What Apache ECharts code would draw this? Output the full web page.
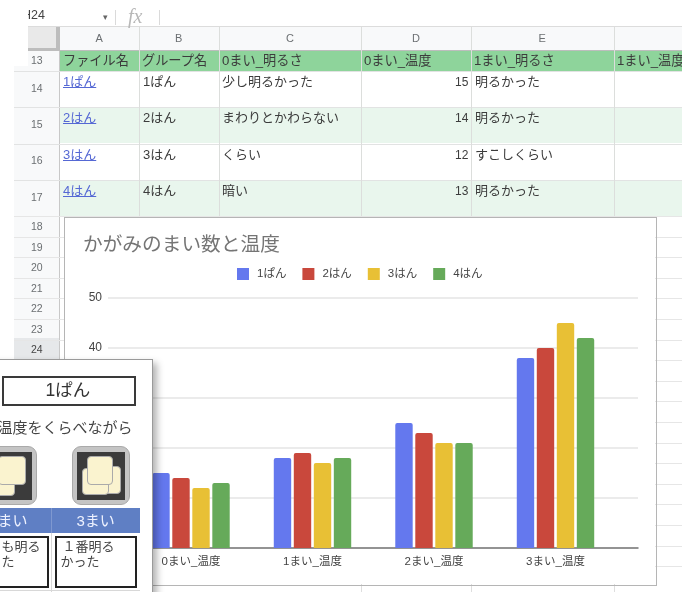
<!DOCTYPE html>
<html>
<head>
<meta charset="utf-8">
<script src="https://cdn.jsdelivr.net/npm/echarts@6/dist/echarts.min.js"></script>
<style>
  html, body { margin: 0; padding: 0; background: #fff; overflow: hidden; }
  #page { position: relative; width: 682px; height: 592px; overflow: hidden; filter: blur(0.45px);
    font-family: "Liberation Sans", "Noto Sans CJK JP", sans-serif; color: #333; }
  .abs { position: absolute; white-space: nowrap; }
  #chart { position: absolute; left: 65px; top: 218px; width: 590px; height: 366px; background: #fff; }
  #chartBorder { position: absolute; left: 64px; top: 217px; width: 591px; height: 367px; border: 1px solid #b5b5b5; }
  #card { position: absolute; left: -10px; top: 359px; width: 161px; height: 240px; background: #fff;
    border: 1.5px solid #9a9a9a; box-shadow: 4px 4px 7px rgba(0,0,0,.3); overflow: hidden; }
</style>
</head>
<body>
<div id="page">
  <div id="sheet"></div>
  <div id="chartBorder"></div>
  <div id="chart"></div>
  <div id="card"></div>
</div>
<script>
// chart data
const groups = ["1ぱん", "2はん", "3はん", "4はん"];
const categories = ["0まい_温度", "1まい_温度", "2まい_温度", "3まい_温度"];
const group1 = [15, 18, 25, 38];
const group2 = [14, 19, 23, 40];
const group3 = [12, 17, 21, 45];
const group4 = [13, 18, 21, 42];
const colors = ["#6478ee", "#c9483c", "#e8c035", "#66aa5a"];

// sheet contents
const headers = ["ファイル名", "グループ名", "0まい_明るさ", "0まい_温度", "1まい_明るさ", "1まい_温度"];
const fileNames = ["1ぱん", "2はん", "3はん", "4はん"];
const brightness0 = ["少し明るかった", "まわりとかわらない", "くらい", "暗い"];
const temp0 = [15, 14, 12, 13];
const brightness1 = ["明るかった", "明るかった", "すこしくらい", "明るかった"];

const colX = [60, 139, 219, 361, 471, 614, 690];
const colNames = ["A", "B", "C", "D", "E", ""];
const rowY = [71, 107, 144, 180, 216];

const sheet = document.getElementById("sheet");
function box(l, t, w, h, bg) {
  const d = document.createElement("div");
  d.className = "abs";
  d.style.cssText += `left:${l}px;top:${t}px;width:${w}px;height:${h}px;background:${bg}`;
  sheet.appendChild(d);
  return d;
}
function text(parent, l, t, str, size, color, extra) {
  const d = document.createElement("div");
  d.className = "abs";
  d.textContent = str;
  d.style.cssText += `left:${l}px;top:${t}px;font-size:${size}px;color:${color};line-height:1;${extra || ""}`;
  parent.appendChild(d);
  return d;
}

// column header strip and row number strip
box(28, 27, 654, 24, "#f8f9fa");
box(14, 66, 46, 526, "#f8f9fa");
box(28, 51, 32, 20, "#f8f9fa");
box(14, 338, 45, 21, "#e6e8ea");
box(28, 27, 30, 22, "#e9e9e9");
box(56, 27, 4, 24, "#bdbdbd");
box(28, 48, 32, 3, "#bdbdbd");
box(28, 26, 654, 1, "#dcdcdc");
box(60, 50, 622, 1, "#bdbdbd");
box(59, 51, 1, 541, "#c8c8c8");

// green header row and striped rows
box(60, 51, 622, 20, "#8ed49b");
box(60, 107, 622, 36, "#e9f6ed");
box(60, 180, 622, 36, "#e9f6ed");
rowY.forEach(y => box(14, y, 668, 1, "#e2e3e3"));
colX.slice(1, 6).forEach(x => box(x, 27, 1, 189, "#dcdedc"));

colNames.forEach((c, i) => text(sheet, (colX[i] + colX[i + 1]) / 2 - 4, 33, c, 11, "#6b6f72"));
headers.forEach((h, i) => text(sheet, colX[i] + 3, 54, h, 13.2, "#3c3c3c"));
fileNames.forEach((f, i) => {
  const y = rowY[i] + 4;
  text(sheet, 63, y, f, 13, "#5568d4", "text-decoration:underline");
  text(sheet, 143, y, f, 13, "#3c3c3c");
  text(sheet, 222, y, brightness0[i], 13, "#3c3c3c");
  text(sheet, 455, y + 1, String(temp0[i]), 12, "#3c3c3c");
  text(sheet, 475, y, brightness1[i], 13, "#3c3c3c");
});

// row numbers
[13, 14, 15, 16, 17].forEach((n, i) => {
  const cy = [60, 88, 124, 160, 197][i];
  text(sheet, 31, cy - 5, String(n), 10.5, "#6b6f72");
});
for (let i = 0; i < 7; i++) {
  const y = 216 + 20.55 * i;
  const n = 18 + i;
  text(sheet, 31, y + 5, String(n), 10.5, n === 24 ? "#444" : "#6b6f72");
}

// grid lines under the chart
for (let i = 0; i < 18; i++) {
  box(14, Math.round(216 + 20.6 * i), 668, 1, "#e6e6e6");
}
[361, 471, 614].forEach(x => box(x, 584, 1, 8, "#dedede"));

// formula bar
const nameBox = box(28, 0, 90, 26, "#fff");
nameBox.style.overflow = "hidden";
text(nameBox, -6, 9, "H24", 12.5, "#444");
text(sheet, 103, 13, "▾", 9, "#666");
box(115, 10, 1, 15, "#dadada");
text(sheet, 128, 6, "fx", 20, "#b8b8b8", "font-family:'Liberation Serif';font-style:italic");
box(159, 10, 1, 15, "#dadada");

// worksheet card lying over the chart, positions given in page pixels
const card = document.getElementById("card");
const cardX = 8.5, cardY = 360.5;
function cardBox(l, t, w, h, css) {
  const d = document.createElement("div");
  d.className = "abs";
  d.style.cssText += `left:${l + cardX}px;top:${t - cardY}px;width:${w}px;height:${h}px;box-sizing:border-box;${css}`;
  card.appendChild(d);
  return d;
}
function cardText(l, t, str, size, color, extra) {
  return text(card, l + cardX, t - cardY, str, size, color, extra);
}
const paper = "background:#faf3cf;border-radius:4px;border:1px solid #aaa";
function iconFrame(l) {
  cardBox(l, 446, 58, 59, "background:#c4c4c4;border-radius:9px;border:1px solid #aaa");
  cardBox(l + 5, 452, 48, 48, "background:#3b3b3b");
}
cardBox(2, 376, 134, 30, "border:2px solid #3a3a3a");
cardText(46, 382, "1ぱん", 17.5, "#333");
cardText(-10, 420, "温度をくらべながら", 15, "#444", "width:143px;text-align:right");
iconFrame(-21);
cardBox(-15, 462, 30, 34, paper);
cardBox(-2, 456, 28, 29, paper);
iconFrame(72);
cardBox(94, 466, 27, 28, paper);
cardBox(82, 468, 27, 27, paper);
cardBox(87, 456, 26, 29, paper);
cardBox(-10, 508, 150, 25, "background:#5f7fc4");
cardBox(51, 508, 1, 25, "background:#7f98d0");
cardText(-2, 513.5, "まい", 15, "#eef2ff");
cardText(77, 513.5, "3まい", 15, "#eef2ff");
cardBox(-10, 536, 59, 52, "border:2px solid #222");
cardBox(55, 536, 82, 52, "border:2px solid #222");
cardBox(-10, 590, 150, 1, "background:#d8d8d8");
cardBox(51, 533, 1, 59, "background:#d8d8d8");
cardText(2, 540, "も明る", 13, "#444");
cardText(2, 555, "た", 13, "#444");
cardText(63, 540, "１番明る", 13, "#444");
cardText(61, 555, "かった", 13, "#444");

// the chart itself
const chart = echarts.init(document.getElementById("chart"));
const barValues = [group1, group2, group3, group4];
const series = groups.map((name, i) => ({
  name,
  type: "bar",
  xAxisIndex: 1,
  yAxisIndex: 1,
  data: barValues[i],
  barWidth: 17.4,
  barGap: "15%",
  itemStyle: { color: colors[i], borderRadius: [2, 2, 0, 0] }
}));
chart.setOption({
  animation: false,
  textStyle: { fontFamily: '"Liberation Sans", "Noto Sans CJK JP", sans-serif' },
  title: {
    text: "かがみのまい数と温度",
    left: 13,
    top: 13,
    textStyle: { fontSize: 19.7, fontWeight: "normal", color: "#757575" }
  },
  legend: {
    data: groups,
    left: 167,
    top: 45,
    icon: "rect",
    itemWidth: 12,
    itemHeight: 12,
    itemGap: 16,
    textStyle: { fontSize: 11.5, color: "#444", padding: [0, 0, 0, 3] }
  },
  // the back grid carries the full width gridlines and baseline, the bars sit narrower in front
  grid: [
    { left: 43, top: 80, width: 530, height: 250 },
    { left: 65.25, top: 80, width: 486, height: 250 }
  ],
  xAxis: [
    {
      type: "category",
      gridIndex: 0,
      data: [""],
      axisTick: { show: false },
      axisLabel: { show: false },
      axisLine: { lineStyle: { color: "#777", width: 1.5 } }
    },
    {
      type: "category",
      gridIndex: 1,
      data: categories,
      axisTick: { show: false },
      axisLine: { show: false },
      axisLabel: { fontSize: 11.5, color: "#444", margin: 8 }
    }
  ],
  yAxis: [
    {
      type: "value",
      gridIndex: 0,
      min: 0,
      max: 50,
      interval: 10,
      axisLine: { show: false },
      axisTick: { show: false },
      axisLabel: { fontSize: 12, color: "#444", margin: 6 },
      splitLine: { lineStyle: { color: "#e4e4e4", width: 1.5 } }
    },
    {
      type: "value",
      gridIndex: 1,
      min: 0,
      max: 50,
      interval: 10,
      axisLine: { show: false },
      axisTick: { show: false },
      axisLabel: { show: false },
      splitLine: { show: false }
    }
  ],
  series
});
</script>
</body>
</html>
